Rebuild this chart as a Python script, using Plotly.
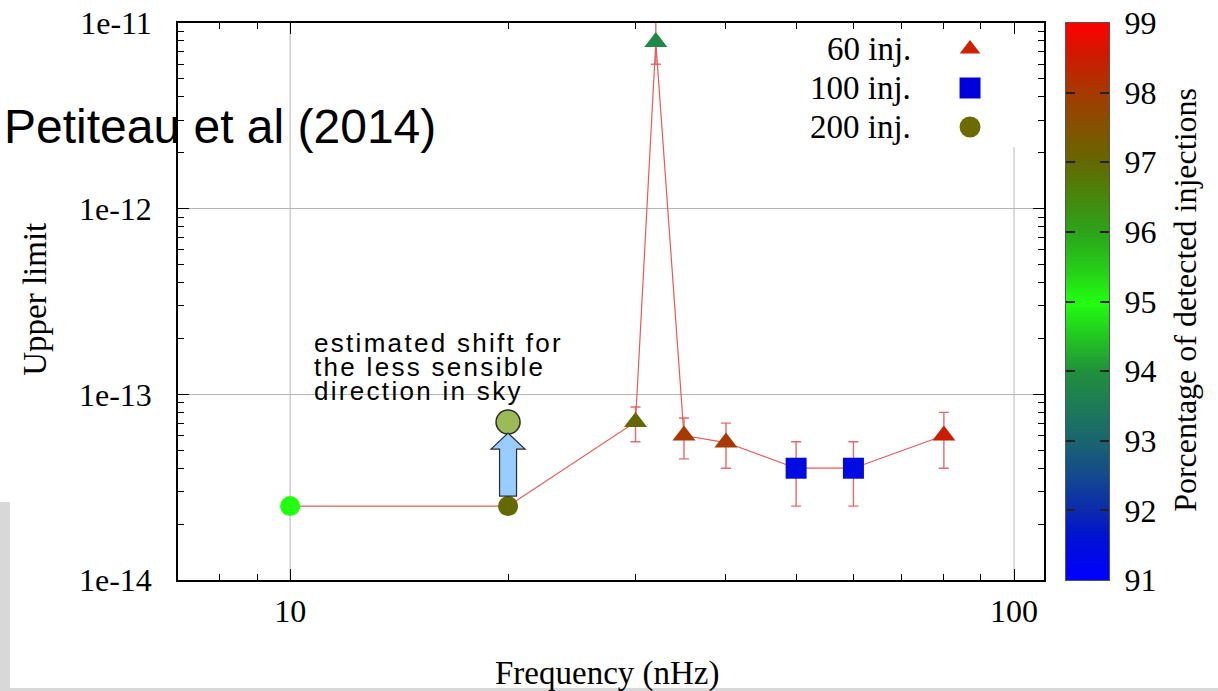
import math
import plotly.graph_objects as go

# ---------------- data ----------------
freq = [10, 20, 30, 32, 35, 40, 50, 60, 80]                 # nHz
upper = [2.5e-14, 2.5e-14, 7.1e-14, 7.9e-12, 6.0e-14, 5.5e-14, 4.0e-14, 4.0e-14, 6.0e-14]
err_hi = [2.5e-14, 2.5e-14, 8.55e-14, 1.2e-11, 7.46e-14, 7.0e-14, 5.55e-14, 5.55e-14, 8.0e-14]
err_lo = [2.5e-14, 2.5e-14, 5.55e-14, 6.0e-12, 4.49e-14, 4.0e-14, 2.5e-14, 2.5e-14, 4.0e-14]
percent = [95.0, 97.0, 97.0, 93.8, 98.0, 98.0, 91.4, 91.4, 98.5]
n_inj = [200, 200, 60, 60, 60, 60, 100, 100, 60]

shift_freq = [20]
shift_value = [7.1e-14]

legend_labels = ["60 inj.", "100 inj.", "200 inj."]
legend_symbols = ["triangle-up", "square", "circle"]
legend_colors = ["#cc2200", "#0000dd", "#6b6b00"]
legend_sizes = [18, 21, 21]
legend_rows = [0.9533, 0.8833, 0.8133]

y_tickvals = [1e-14, 1e-13, 1e-12, 1e-11]
y_ticktext = ["1e-14", "1e-13", "1e-12", "1e-11"]
x_tickvals = [10, 100]
x_ticktext = ["10", "100"]
cb_ticks = [91, 92, 93, 94, 95, 96, 97, 98, 99]
CB_MIN, CB_MAX = 91, 99

SERIF = "Liberation Serif, Times New Roman, serif"
SANS = "Liberation Sans, Arial, sans-serif"

colorscale = [
    [0.000, "#0000ff"],
    [0.075, "#0010d4"],
    [0.125, "#0c2aae"],
    [0.190, "#144a8c"],
    [0.250, "#1a6470"],
    [0.310, "#1d7a58"],
    [0.375, "#20903c"],
    [0.440, "#22c820"],
    [0.500, "#22ff10"],
    [0.560, "#26cc18"],
    [0.625, "#2ca41a"],
    [0.690, "#48860c"],
    [0.750, "#646800"],
    [0.810, "#825400"],
    [0.875, "#a43a00"],
    [0.940, "#cc1c00"],
    [1.000, "#ff0000"],
]

# ---------------- geometry (pixels) ----------------
W, H = 1218, 691
ML, MR, MT, MB = 178, 60, 23, 111
PW = W - ML - MR          # paper width
PH = H - MT - MB          # paper height


def px(xpix):
    return (xpix - ML) / PW


def py(ypix):
    return 1 - (ypix - MT) / PH


PLOT_RIGHT = 1044
CB_LEFT, CB_RIGHT = 1066, 1109

fig = go.Figure()

# connecting line with error bars
fig.add_trace(go.Scatter(
    x=freq, y=upper, mode="lines",
    line=dict(color="#e65a5a", width=1.2),
    error_y=dict(type="data", symmetric=False,
                 array=[h - v for h, v in zip(err_hi, upper)],
                 arrayminus=[v - l for v, l in zip(upper, err_lo)],
                 color="rgba(225,80,80,0.85)", thickness=1.4, width=5),
    showlegend=False, hoverinfo="skip",
))

sym_map = {60: "triangle-up", 100: "square", 200: "circle"}
size_map = {60: 20, 100: 21, 200: 20}
for n in [200, 60, 100]:
    idx = [i for i, k in enumerate(n_inj) if k == n]
    fig.add_trace(go.Scatter(
        x=[freq[i] for i in idx], y=[upper[i] for i in idx], mode="markers",
        marker=dict(symbol=sym_map[n], size=size_map[n],
                    color=[percent[i] for i in idx], coloraxis="coloraxis",
                    line=dict(width=0)),
        showlegend=False,
    ))

# shifted estimate marker
fig.add_trace(go.Scatter(
    x=shift_freq, y=shift_value, mode="markers",
    marker=dict(symbol="circle", size=24, color="#9bbb59",
                line=dict(color="#2b2b2b", width=1.5)),
    showlegend=False,
))

# custom legend markers on an overlay axis
fig.add_trace(go.Scatter(
    x=[0.9146] * 3, y=legend_rows, mode="markers",
    marker=dict(symbol=legend_symbols, size=legend_sizes, color=legend_colors,
                opacity=1, line=dict(width=0)),
    xaxis="x2", yaxis="y2", showlegend=False, hoverinfo="skip",
))

# colour bar drawn as a smoothed heatmap of the tick values on its own axes
fig.add_trace(go.Heatmap(
    z=[[v, v] for v in cb_ticks], x=[0, 1], y=cb_ticks,
    coloraxis="coloraxis", zsmooth="best",
    xaxis="x3", yaxis="y3", hoverinfo="skip",
))

minor_x = [v * d for d in (1, 10) for v in range(2, 10)]
minor_y = [v * 10.0 ** e for e in (-14, -13, -12) for v in range(2, 10)]

axis_common = dict(
    showline=True, linecolor="black", linewidth=1.5, mirror="ticks",
    ticks="inside", ticklen=11, tickwidth=1.2, tickcolor="black",
    zeroline=False,
    tickfont=dict(family=SERIF, size=32, color="black"),
)

fig.update_layout(
    width=W, height=H,
    font=dict(family=SERIF, size=32, color="black"),
    margin=dict(l=ML, r=MR, t=MT, b=MB, autoexpand=False),
    paper_bgcolor="white", plot_bgcolor="white",
    xaxis=dict(type="log", range=[math.log10(7), math.log10(110)],
               domain=[0, px(PLOT_RIGHT)],
               tickmode="array", tickvals=x_tickvals, ticktext=x_ticktext,
               ticklabelstandoff=2, showgrid=False,
               minor=dict(tickmode="array", tickvals=minor_x, ticks="inside",
                          ticklen=6, tickwidth=1.2, tickcolor="black", showgrid=False),
               **axis_common),
    yaxis=dict(type="log", range=[-14, -11],
               tickmode="array", tickvals=y_tickvals, ticktext=y_ticktext,
               ticklabelstandoff=18, showgrid=True, gridcolor="#b4b4b4", gridwidth=1,
               minor=dict(tickmode="array", tickvals=minor_y, ticks="inside",
                          ticklen=6, tickwidth=1.2, tickcolor="black", showgrid=False),
               **axis_common),
    xaxis2=dict(overlaying="x", range=[0, 1], visible=False, fixedrange=True),
    yaxis2=dict(overlaying="y", range=[0, 1], visible=False, fixedrange=True),
    xaxis3=dict(domain=[px(CB_LEFT), px(CB_RIGHT)], anchor="y3", range=[0, 1],
                showgrid=False, zeroline=False, showticklabels=False, ticks="",
                showline=True, linecolor="#555555", linewidth=1, mirror=True,
                fixedrange=True),
    yaxis3=dict(domain=[0, 1], anchor="x3", range=[CB_MIN, CB_MAX], side="right",
                tickmode="array", tickvals=cb_ticks, ticktext=[str(v) for v in cb_ticks],
                ticks="inside", ticklen=9, tickwidth=1.5, tickcolor="#222222",
                mirror="ticks", showline=True, linecolor="#555555", linewidth=1,
                showgrid=False, zeroline=False, ticklabelstandoff=8,
                tickfont=dict(family=SERIF, size=32, color="black"), fixedrange=True),
    coloraxis=dict(cmin=CB_MIN, cmax=CB_MAX, colorscale=colorscale, showscale=False),
    showlegend=False,
)

annotations = [
    dict(text="Petiteau et al (2014)", x=px(2), y=0.814, xref="paper", yref="paper",
         xanchor="left", yanchor="middle", showarrow=False,
         font=dict(family=SANS, size=48, color="black")),
    dict(text="Upper limit", x=px(35), y=0.503, xref="paper", yref="paper",
         xanchor="center", yanchor="middle", textangle=-90, showarrow=False,
         font=dict(family=SERIF, size=33, color="black")),
    dict(text="Frequency (nHz)", x=px(607), y=-0.167, xref="paper", yref="paper",
         xanchor="center", yanchor="middle", showarrow=False,
         font=dict(family=SERIF, size=33, color="black")),
    dict(text="Porcentage of detected injections", x=px(1185), y=0.503, xref="paper", yref="paper",
         xanchor="center", yanchor="middle", textangle=-90, showarrow=False,
         font=dict(family=SERIF, size=32, color="black")),
]
shift_lines = ["estimated shift for", "the less sensible", "direction in sky"]
shift_y = [py(343), py(367), py(391)]
for t, yy in zip(shift_lines, shift_y):
    annotations.append(dict(
        text='<span style="letter-spacing:2.3px">' + t + '</span>',
        x=px(312), y=yy, xref="paper", yref="paper",
        xanchor="left", yanchor="middle", showarrow=False,
        font=dict(family=SANS, size=26, color="black")))
for lab, yy in zip(legend_labels, legend_rows):
    annotations.append(dict(
        text=lab, x=px(913), y=yy, xref="paper", yref="paper",
        xanchor="right", yanchor="middle", showarrow=False,
        font=dict(family=SERIF, size=33, color="black")))
fig.update_layout(annotations=annotations)

shapes = [
    # vertical grid lines (the 100 nHz one stops under the legend)
    dict(type="line", xref="x", yref="y domain", x0=10, x1=10, y0=0, y1=1,
         line=dict(color="#b4b4b4", width=1), layer="below"),
    dict(type="line", xref="x", yref="y domain", x0=100, x1=100, y0=0, y1=0.777,
         line=dict(color="#b4b4b4", width=1), layer="below"),
    # blue block arrow (pixel offsets from the 20 nHz point)
    dict(type="path", xref="x", yref="y",
         xsizemode="pixel", ysizemode="pixel", xanchor=20, yanchor=2.5e-14,
         path="M -8.5,10 L 8.5,10 L 8.5,57 L 17,57 L 0,73 L -17,57 L -8.5,57 Z",
         fillcolor="#99ccff", line=dict(color="#2b2b2b", width=1.2), layer="above"),
    # slide background bits
    dict(type="rect", xref="paper", yref="paper",
         x0=px(0), x1=px(10), y0=py(H), y1=py(502),
         fillcolor="#d8d8d8", line=dict(width=0), layer="below"),
    dict(type="rect", xref="paper", yref="paper",
         x0=px(0), x1=px(W), y0=py(H), y1=py(H - 3),
         fillcolor="#d8d8d8", line=dict(width=0), layer="below"),
]
fig.update_layout(shapes=shapes)

fig.write_html("out.html")
